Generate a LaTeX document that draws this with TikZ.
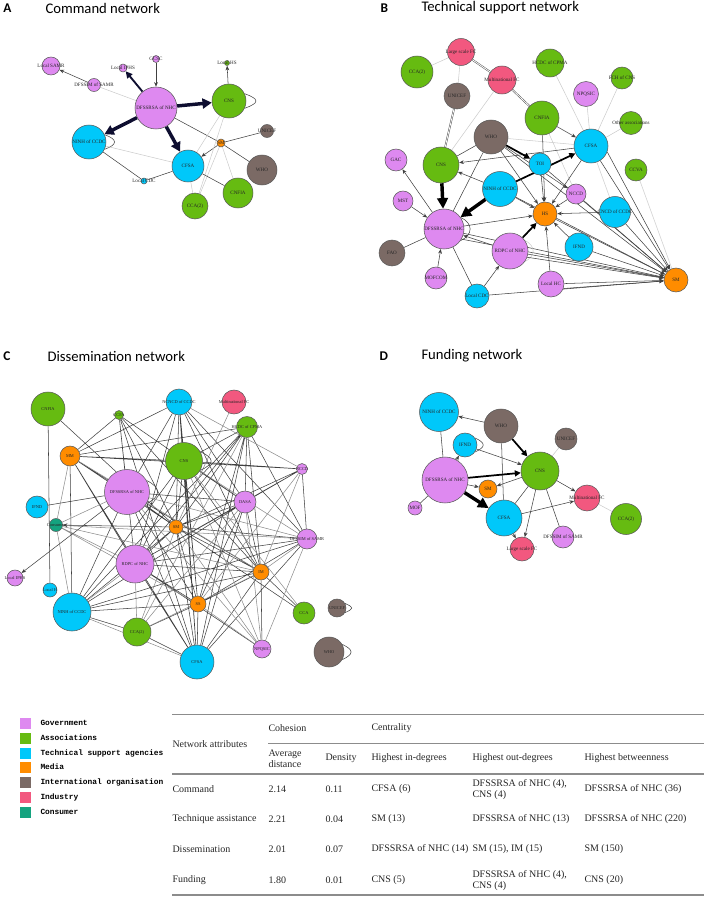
\documentclass[tikz,border=0pt]{standalone}
\usepackage{fontspec}
\setmainfont{Liberation Serif}
\newfontfamily\ttlfont{Carlito}
\newfontfamily\legfont{Liberation Mono}
\usetikzlibrary{arrows.meta,backgrounds}

\definecolor{cgov}{RGB}{222,137,240}
\definecolor{casc}{RGB}{102,187,17}
\definecolor{ctsa}{RGB}{0,200,250}
\definecolor{cmed}{RGB}{255,140,0}
\definecolor{cino}{RGB}{123,106,101}
\definecolor{cind}{RGB}{242,88,127}
\definecolor{ccon}{RGB}{20,163,127}
\definecolor{cnavy}{RGB}{14,14,48}

\tikzset{every picture/.style={line width=0.75pt}}
\tikzset{
  lab/.style={font=\fontsize{3.8}{4}\selectfont, text=black!85, inner sep=0pt},
  lbl/.style={label={[lab]center:#1}},
  nd/.style={circle, draw=black!65, line width=0.4pt, inner sep=0pt, minimum size=#1*1.5pt},
  gov/.style={nd=#1, fill=cgov},
  asc/.style={nd=#1, fill=casc},
  tsa/.style={nd=#1, fill=ctsa},
  med/.style={nd=#1, fill=cmed},
  ino/.style={nd=#1, fill=cino},
  ind/.style={nd=#1, fill=cind},
  con/.style={nd=#1, fill=ccon},
  lnk/.style={draw=black!75, line width=0.4pt},
  mgr/.style={draw=black!45, line width=0.4pt},
  lgt/.style={draw=black!20, line width=0.4pt},
  dbl/.style={draw=black!70, double=white, double distance=0.6pt, line width=0.35pt},
  arw/.style={lnk, -{Stealth[length=3.5pt,width=2.8pt]}},
  midA/.style={draw=cnavy, line width=1.4pt, -{Triangle[length=5pt,width=5pt]}},
  fatA/.style={draw=cnavy, line width=2.6pt, -{Triangle[length=7pt,width=7.5pt]}},
  fatB/.style={draw=black, line width=2.6pt, -{Triangle[length=8pt,width=8pt]}},
  semB/.style={draw=black, line width=1.3pt, -{Triangle[length=4.5pt,width=4.5pt]}},
  plet/.style={anchor=west, inner sep=0pt, font=\ttlfont\bfseries\fontsize{10}{12}\selectfont},
  ptitle/.style={anchor=west, inner sep=0pt, font=\ttlfont\fontsize{11}{13}\selectfont},
  tcell/.style={anchor=west, inner sep=0pt, align=left, text=black!85, font=\fontsize{7.5}{8.6}\selectfont},
  lsq/.style={fill=#1, minimum size=8.25pt, inner sep=0pt},
  ltxt/.style={anchor=west, inner sep=0pt, font=\legfont\bfseries\fontsize{5.9}{7}\selectfont},
  trule/.style={draw=black!45, line width=0.6pt}
}

\begin{document}
\begin{tikzpicture}[x=0.75pt,y=0.75pt,yscale=-1,xscale=1]
\useasboundingbox (0,0) rectangle (708,899);

% Panel A: command network
\node[plet] (aLet) at (3,8) {A};
\node[ptitle] (aTtl) at (45,8) {Command network};

\node[gov=9, lbl=Local SAMR] (aLSAMR) at (51,66) {};
\node[gov=6.5, lbl=DFSSIM of SAMR] (aDFSSIM) at (94,85) {};
\node[gov=4, lbl=Local IPHS] (aLIPHS) at (123,68) {};
\node[gov=3.5, lbl=GCSC] (aGCSC) at (156,59) {};
\node[gov=21, lbl=DFSSRSA of NHC] (aDFS) at (156,108) {};
\node[asc=2.5, lbl=Local HS] (aLHS) at (227,63) {};
\node[asc=17, lbl=CNS] (aCNS) at (229,101) {};
\node[ino=6.5, lbl=UNICEF] (aUNI) at (267,131) {};
\node[med=4, lbl=SM] (aSM) at (221,143) {};
\node[tsa=17, lbl=NINH of CCDC] (aNINH) at (89,142) {};
\node[tsa=16, lbl=CFSA] (aCFSA) at (188,166) {};
\node[ino=15, lbl=WHO] (aWHO) at (262,170) {};
\node[tsa=3, lbl=Local CDC] (aLCDC) at (144,181) {};
\node[asc=15, lbl=CNFIA] (aCNFIA) at (238,193) {};
\node[asc=13, lbl=CCA(2)] (aCCA) at (195,206) {};

\begin{scope}[on background layer]
\draw[lgt] (aDFS) -- (aDFSSIM);
\draw[arw] (aDFSSIM) -- (aLSAMR);
\draw[midA] (aDFS) -- (aLIPHS);
\draw[arw] (aGCSC) -- (aDFS);
\draw[fatA] (aDFS) -- (aCNS);
\draw[fatA] (aDFS) -- (aNINH);
\draw[fatA] (aDFS) -- (aCFSA);
\draw[lnk] (aDFS) -- (aSM);
\draw[arw] (aCNS) -- (aLHS);
\draw[lnk] (aCNS.25) .. controls +(20:16) and +(-20:16) .. (aCNS.-25);
\draw[lnk] (aNINH.25) .. controls +(20:14) and +(-20:14) .. (aNINH.-25);
\draw[lgt] (aNINH) -- (aCFSA);
\draw[lnk] (aNINH) -- (aLCDC);
\draw[lnk] (aLCDC) -- (aCFSA);
\draw[arw] (aSM) -- (aCFSA);
\draw[lnk] (aSM) -- (aUNI);
\draw[lnk] (aSM) -- (aWHO);
\draw[lgt] (aSM) -- (aCNFIA);
\draw[lgt] (aSM) -- (aCCA);
\draw[lgt] (aCNS) -- (aCFSA);
\draw[lgt] (aCNS) -- (aCCA);
\draw[lnk] (aCFSA) -- (aCNFIA);
\draw[lgt] (aCFSA) -- (aCCA);
\end{scope}

% Panel B: technical support network
\node[plet] (bLet) at (380,8) {B};
\node[ptitle] (bTtl) at (421,8) {Technical support network};

\node[ind=13.5, lbl=Large scale FC] (bLSFC) at (461,52) {};
\node[asc=16, lbl=CCA(2)] (bCCA) at (417,72) {};
\node[ind=14, lbl=Multinational FC] (bMFC) at (502,80) {};
\node[asc=14, lbl=HCDC of CPMA] (bHCDC) at (550,63) {};
\node[gov=12.5, lbl=NPQSIC] (bNPQ) at (586,94) {};
\node[asc=11, lbl=FCH of CNS] (bFCH) at (622,78) {};
\node[ino=13, lbl=UNICEF] (bUNI) at (457,96) {};
\node[asc=17, lbl=CNFIA] (bCNFIA) at (542,118) {};
\node[asc=11.5, lbl=Other associations] (bOA) at (631,123) {};
\node[ino=17, lbl=WHO] (bWHO) at (491,137) {};
\node[tsa=17, lbl=CFSA] (bCFSA) at (591,146) {};
\node[gov=11, lbl=GAC] (bGAC) at (396,160) {};
\node[asc=18, lbl=CNS] (bCNS) at (441,165) {};
\node[tsa=11, lbl=TOI] (bTOI) at (540,164) {};
\node[asc=11, lbl=CCVA] (bCCVA) at (636,170) {};
\node[tsa=17.5, lbl=NINH of CCDC] (bNINH) at (500,189) {};
\node[gov=10, lbl=MST] (bMST) at (403,201) {};
\node[gov=10, lbl=NCCD] (bNCCD) at (576,194) {};
\node[med=12, lbl=HS] (bHS) at (545,214) {};
\node[tsa=15.5, lbl=CNCD of CCDC] (bCNCD) at (615,212) {};
\node[gov=20, lbl=DFSSRSA of NHC] (bDFS) at (444,229) {};
\node[ino=13, lbl=FAO] (bFAO) at (392,253) {};
\node[gov=18, lbl=RDPC of NHC] (bRDPC) at (510,251) {};
\node[tsa=14, lbl=IFND] (bIFND) at (579,247) {};
\node[gov=11, lbl=MOFCOM] (bMOF) at (436,278) {};
\node[gov=13, lbl=Local HC] (bLHC) at (551,284) {};
\node[tsa=12, lbl=Local CDC] (bLCDC) at (477,296) {};
\node[med=12, lbl=SM] (bSM) at (676,280) {};

\begin{scope}[on background layer]
\draw[lgt] (bLSFC) -- (bCCA);
\draw[lgt] (bLSFC) -- (bUNI);
\draw[dbl] (bLSFC) -- (bMFC);
\draw[dbl] (bMFC) -- (bCNFIA);
\draw[lgt] (bMFC) -- (bCNS);
\draw[dbl] (bUNI) -- (bCNS);
\draw[lnk] (bWHO) -- (bCNS);
\draw[lnk] (bWHO) -- (bDFS);
\draw[lgt] (bWHO) -- (bCFSA);
\draw[lgt] (bHCDC) -- (bCFSA);
\draw[lgt] (bNPQ) -- (bCFSA);
\draw[lgt] (bFCH) -- (bCFSA);
\draw[lgt] (bOA) -- (bCFSA);
\draw[lgt] (bCCVA) -- (bSM);
\draw[lgt] (bCFSA) -- (bCNCD);
\draw[lgt] (bCNFIA) -- (bNCCD);
\draw[arw] (bCFSA) -- (bCNS);
\draw[arw] (bCNFIA) -- (bCFSA);
\draw[arw] (bCNFIA) -- (bHS);
\draw[fatB] (bCNS) -- (bDFS);
\draw[fatB] (bNINH) -- (bDFS);
\draw[semB] (bNINH) -- (bCFSA);
\draw[arw] (bNINH) -- (bCNS);
\draw[arw] (bDFS) -- (bGAC);
\draw[arw, {Stealth[length=3.5pt,width=2.8pt]}-] (bDFS) -- (bMST);
\draw[arw, {Stealth[length=3.5pt,width=2.8pt]}-] (bDFS) -- (bMOF);
\draw[lnk] (bFAO) -- (bDFS);
\draw[lnk] (bDFS) -- (bLCDC);
\draw[arw] (bDFS) -- (bHS);
\draw[arw, {Stealth[length=3.5pt,width=2.8pt]}-] (bDFS) -- (bRDPC);
\draw[arw] (bDFS) -- (bSM);
\draw[arw] (bDFS.-30) -- (bSM);
\draw[lnk] (bDFS.35) .. controls +(25:14) and +(-25:14) .. (bDFS.-35);
\draw[lgt] (bRDPC.35) .. controls +(25:12) and +(-25:12) .. (bRDPC.-35);
\draw[arw] (bLCDC) -- (bRDPC);
\draw[arw] (bLCDC) -- (bSM);
\draw[semB] (bRDPC) -- (bHS);
\draw[arw] (bRDPC) -- (bSM);
\draw[arw] (bRDPC.-20) -- (bSM);
\draw[arw] (bLHC) -- (bHS);
\draw[arw] (bLHC) -- (bSM);
\draw[arw] (bLHC.-20) -- (bSM);
\draw[arw] (bIFND) -- (bHS);
\draw[arw] (bIFND) -- (bSM);
\draw[arw] (bCNCD) -- (bHS);
\draw[arw] (bCNCD) -- (bSM);
\draw[arw] (bNCCD) -- (bHS);
\draw[arw] (bNCCD) -- (bSM);
\draw[arw] (bTOI) -- (bHS);
\draw[arw] (bTOI) -- (bSM);
\draw[arw] (bNINH) -- (bHS);
\draw[arw] (bNINH) -- (bSM);
\draw[arw] (bHS) -- (bSM);
\draw[arw] (bCFSA) -- (bHS);
\draw[arw] (bCFSA) -- (bSM);
\draw[arw] (bCFSA.-20) -- (bSM);
\draw[arw] (bWHO) -- (bHS);
\draw[semB] (bWHO) -- (bTOI);
\draw[arw] (bWHO) -- (bNCCD);
\draw[arw] (bWHO) -- (bSM);
\end{scope}

% Panel C: dissemination network
\node[plet] (cLet) at (3,356) {C};
\node[ptitle] (cTtl) at (47,356) {Dissemination network};

\begin{scope}[lab/.append style={font=\fontsize{3.3}{3.6}\selectfont}]
\node[asc=17, lbl=CNFIA] (cCNFIA) at (48,409) {};
\node[tsa=13, lbl=NCNCD of CCDC] (cNCNCD) at (179,402) {};
\node[ind=12, lbl=Multinational FC] (cMFC) at (234,402) {};
\node[asc=4.5, lbl=CCFA] (cCCFA) at (119,415) {};
\node[asc=10.5, lbl=HCDC of CPMA] (cHCDC) at (247,427) {};
\node[med=10, lbl=MM] (cMM) at (70,456) {};
\node[asc=18.5, lbl=CNS] (cCNS) at (184,461) {};
\node[gov=5.5, lbl=NCCD] (cNCCD) at (302,469) {};
\node[gov=22.5, lbl=DFSSRSA of NHC] (cDFS) at (127,492) {};
\node[gov=11, lbl=DASA] (cDASA) at (245,502) {};
\node[tsa=11, lbl=IFND] (cIFND) at (37,507) {};
\node[con=6.5, lbl=Consumer] (cCon) at (56,525) {};
\node[med=7, lbl=SM] (cSM) at (176,527) {};
\node[gov=10, lbl=DFSSIM of SAMR] (cDFSSIM) at (307,539) {};
\node[gov=19, lbl=RDPC of NHC] (cRDPC) at (135,564) {};
\node[med=8, lbl=IM] (cIM) at (261,572) {};
\node[gov=8, lbl=Local IPHS] (cLIPHS) at (15,578) {};
\node[tsa=7, lbl=Local H] (cLH) at (50,590) {};
\node[med=8, lbl=SS] (cSS) at (198,604) {};
\node[tsa=19, lbl=NINH of CCDC] (cNINH) at (72,612) {};
\node[asc=11, lbl=CCA] (cCCA) at (304,613) {};
\node[ino=9, lbl=UNICEF] (cUNI) at (337,608) {};
\node[asc=14, lbl=CCA(2)] (cCCA2) at (137,632) {};
\node[gov=9, lbl=NPQSIC] (cNPQ) at (262,649) {};
\node[tsa=17, lbl=CFSA] (cCFSA) at (197,662) {};
\node[ino=15, lbl=WHO] (cWHO) at (329,652) {};
\end{scope}

\begin{scope}[on background layer]
\draw[lnk] (cCNFIA) -- (cSM) (cCNFIA) -- (cLH)
  (cCCFA) -- (cMM) (cCCFA) -- (cDFS) (cCCFA) -- (cSM) (cCCFA) -- (cDASA)
  (cCCFA) -- (cRDPC) (cCCFA) -- (cIM) (cCCFA) -- (cCFSA)
  (cNCNCD) -- (cMM) (cNCNCD) -- (cDFS) (cNCNCD) -- (cCNS) (cNCNCD) -- (cDASA)
  (cNCNCD) -- (cIM) (cNCNCD) -- (cSM) (cNCNCD) -- (cRDPC) (cNCNCD) -- (cSS)
  (cNCNCD) -- (cCFSA) (cNCNCD) -- (cDFSSIM)
  (cHCDC) -- (cMM) (cHCDC) -- (cCNS) (cHCDC) -- (cDASA) (cHCDC) -- (cIM)
  (cHCDC) -- (cSM) (cHCDC) -- (cSS) (cHCDC) -- (cDFSSIM) (cHCDC) -- (cRDPC)
  (cHCDC) -- (cCFSA) (cHCDC) -- (cNINH)
  (cMM) -- (cCNS) (cMM) -- (cDFS) (cMM) -- (cSM) (cMM) -- (cNCCD) (cMM) -- (cRDPC)
  (cMM) -- (cNINH) (cMM) -- (cCFSA)
  (cCNS) -- (cNCCD) (cCNS) -- (cDASA) (cCNS) -- (cSM) (cCNS) -- (cIM)
  (cCNS) -- (cSS) (cCNS) -- (cCFSA) (cCNS) -- (cNINH) (cCNS) -- (cRDPC)
  (cNCCD) -- (cDASA) (cNCCD) -- (cDFSSIM) (cNCCD) -- (cSM) (cNCCD) -- (cRDPC)
  (cDFS) -- (cIFND) (cDFS) -- (cSM) (cDFS) -- (cNINH) (cDFS) -- (cIM)
  (cDFS) -- (cSS) (cDFS) -- (cCFSA) (cDFS) -- (cDASA)
  (cDASA) -- (cSM) (cDASA) -- (cIM) (cDASA) -- (cSS) (cDASA) -- (cRDPC)
  (cDASA) -- (cCFSA) (cDASA) -- (cNINH)
  (cSM) -- (cIM) (cSM) -- (cSS) (cSM) -- (cRDPC) (cSM) -- (cNINH) (cSM) -- (cCFSA)
  (cSM) -- (cCCA) (cSM) -- (cDFSSIM)
  (cDFSSIM) -- (cRDPC) (cDFSSIM) -- (cSS) (cDFSSIM) -- (cNINH) (cDFSSIM) -- (cCFSA)
  (cRDPC) -- (cIM) (cRDPC) -- (cSS) (cRDPC) -- (cCFSA) (cRDPC) -- (cNPQ)
  (cIM) -- (cSS) (cIM) -- (cNINH) (cIM) -- (cCFSA) (cIM) -- (cCCA) (cIM) -- (cNPQ)
  (cSS) -- (cNINH) (cSS) -- (cCFSA) (cSS) -- (cCCA2)
  (cNINH) -- (cCCA2) (cCCA2) -- (cCFSA);
\draw[mgr] (cMFC) -- (cSM) (cMM) -- (cIM) (cMM) -- (cCon) (cCNS) -- (cDFSSIM)
  (cCNS) -- (cNPQ) (cCNS) -- (cCCA) (cNCCD) -- (cIM) (cNCCD) -- (cSS)
  (cDFS) -- (cNPQ) (cDFS) -- (cDFSSIM) (cDFS) -- (cCon) (cDASA) -- (cNPQ)
  (cDASA) -- (cCCA2) (cCon) -- (cIM) (cCon) -- (cDFSSIM) (cCon) -- (cRDPC)
  (cCon) -- (cSS) (cCon) -- (cNINH) (cSM) -- (cNPQ) (cSM) -- (cCCA2)
  (cDFSSIM) -- (cIM) (cDFSSIM) -- (cNPQ) (cRDPC) -- (cNINH) (cRDPC) -- (cCCA2)
  (cIM) -- (cCCA2) (cSS) -- (cNPQ) (cNINH) -- (cCFSA) (cHCDC) -- (cCCA2)
  (cNCNCD) -- (cNCCD);
\draw[arw] (cDFS) -- (cLIPHS);
\draw[arw] (cSM) -- (cCon);
\draw[lnk] (cCNS.30) .. controls +(25:16) and +(-25:16) .. (cCNS.-30);
\draw[lnk] (cDFS.30) .. controls +(25:16) and +(-25:16) .. (cDFS.-30);
\draw[lnk] (cUNI.30) .. controls +(25:10) and +(-25:10) .. (cUNI.-30);
\draw[lnk] (cWHO.30) .. controls +(25:13) and +(-25:13) .. (cWHO.-30);
\end{scope}

% Panel D: funding network
\node[plet] (dLet) at (379,356) {D};
\node[ptitle] (dTtl) at (421,356) {Funding network};

\node[tsa=19.5, lbl=NINH of CCDC] (dNINH) at (439,412) {};
\node[ino=17, lbl=WHO] (dWHO) at (501,426) {};
\node[ino=11, lbl=UNICEF] (dUNI) at (566,439) {};
\node[tsa=12, lbl=IFND] (dIFND) at (465,445) {};
\node[asc=19, lbl=CNS] (dCNS) at (540,471) {};
\node[gov=23, lbl=DFSSRSA of NHC] (dDFS) at (445,480) {};
\node[med=9, lbl=SM] (dSM) at (488,489) {};
\node[ind=13, lbl=Multinational FC] (dMFC) at (587,498) {};
\node[gov=7, lbl=MOF] (dMOF) at (415,508) {};
\node[tsa=18, lbl=CFSA] (dCFSA) at (504,518) {};
\node[asc=15.5, lbl=CCA(2)] (dCCA) at (626,519) {};
\node[gov=11, lbl=DFSSIM of SAMR] (dDFSSIM) at (563,537) {};
\node[ind=12, lbl=Large scale FC] (dLSFC) at (522,549) {};

\begin{scope}[on background layer]
\draw[arw] (dWHO) -- (dNINH);
\draw[semB] (dWHO) -- (dCNS);
\draw[lnk] (dWHO) -- (dCFSA);
\draw[lnk] (dNINH) -- (dDFS);
\draw[lnk] (dIFND.35) .. controls +(25:12) and +(-25:12) .. (dIFND.-35);
\draw[arw] (dIFND) -- (dCNS);
\draw[arw] (dDFS) -- (dIFND);
\draw[semB] (dDFS) -- (dCNS);
\draw[arw] (dDFS) -- (dSM);
\draw[fatB] (dDFS) -- (dCFSA);
\draw[lnk] (dDFS) -- (dMOF);
\draw[arw] (dCNS) -- (dSM);
\draw[arw] (dCNS) -- (dMFC);
\draw[arw] (dCNS) -- (dLSFC);
\draw[lnk] (dCNS) -- (dCFSA);
\draw[lnk] (dCNS) -- (dDFSSIM);
\draw[lgt] (dCNS) -- (dUNI);
\draw[arw] (dCFSA) -- (dMFC);
\draw[arw] (dCFSA) -- (dLSFC);
\draw[lgt] (dMFC) -- (dCCA);
\end{scope}

% Legend
\node[lsq=cgov] (kGov) at (25.5,723) {};
\node[lsq=casc] (kAsc) at (25.5,738) {};
\node[lsq=ctsa] (kTsa) at (25.5,753) {};
\node[lsq=cmed] (kMed) at (25.5,767) {};
\node[lsq=cino] (kIno) at (25.5,782) {};
\node[lsq=cind] (kInd) at (25.5,797) {};
\node[lsq=ccon] (kCon) at (25.5,812) {};
\node[ltxt] (kGovT) at (40,723) {Government};
\node[ltxt] (kAscT) at (40,738) {Associations};
\node[ltxt] (kTsaT) at (40,753) {Technical support agencies};
\node[ltxt] (kMedT) at (40,767) {Media};
\node[ltxt] (kInoT) at (40,782) {International organisation};
\node[ltxt] (kIndT) at (40,797) {Industry};
\node[ltxt] (kConT) at (40,812) {Consumer};

% Table
\draw[trule] (172,714) -- (704,714);
\draw[trule] (268,743) -- (704,743);
\draw[trule, line width=0.8pt] (172,774) -- (704,774);
\draw[trule, line width=0.8pt] (172,895) -- (704,895);

\node[tcell] (tHd) at (172,744) {Network attributes};
\node[tcell] (tCoh) at (268,728) {Cohesion};
\node[tcell] (tCen) at (371,728) {Centrality};
\node[tcell] (tAvg) at (268,758.5) {Average\\distance};
\node[tcell] (tDen) at (325,758) {Density};
\node[tcell] (tIn) at (371,758) {Highest in-degrees};
\node[tcell] (tOut) at (472,758) {Highest out-degrees};
\node[tcell] (tBet) at (584,758) {Highest betweenness};

\node[tcell] (r1a) at (172,789) {Command};
\node[tcell] (r1b) at (268,789) {2.14};
\node[tcell] (r1c) at (325,789) {0.11};
\node[tcell] (r1d) at (371,789) {CFSA (6)};
\node[tcell] (r1e) at (472,789.5) {DFSSRSA of NHC (4),\\CNS (4)};
\node[tcell] (r1f) at (584,789) {DFSSRSA of NHC (36)};

\node[tcell] (r2a) at (172,819) {Technique assistance};
\node[tcell] (r2b) at (268,819) {2.21};
\node[tcell] (r2c) at (325,819) {0.04};
\node[tcell] (r2d) at (371,819) {SM (13)};
\node[tcell] (r2e) at (472,819) {DFSSRSA of NHC (13)};
\node[tcell] (r2f) at (584,819) {DFSSRSA of NHC (220)};

\node[tcell] (r3a) at (172,849) {Dissemination};
\node[tcell] (r3b) at (268,849) {2.01};
\node[tcell] (r3c) at (325,849) {0.07};
\node[tcell] (r3d) at (371,849) {DFSSRSA of NHC (14)};
\node[tcell] (r3e) at (472,849) {SM (15), IM (15)};
\node[tcell] (r3f) at (584,849) {SM (150)};

\node[tcell] (r4a) at (172,880) {Funding};
\node[tcell] (r4b) at (268,880) {1.80};
\node[tcell] (r4c) at (325,880) {0.01};
\node[tcell] (r4d) at (371,880) {CNS (5)};
\node[tcell] (r4e) at (472,880.5) {DFSSRSA of NHC (4),\\CNS (4)};
\node[tcell] (r4f) at (584,880) {CNS (20)};

\end{tikzpicture}
\end{document}
